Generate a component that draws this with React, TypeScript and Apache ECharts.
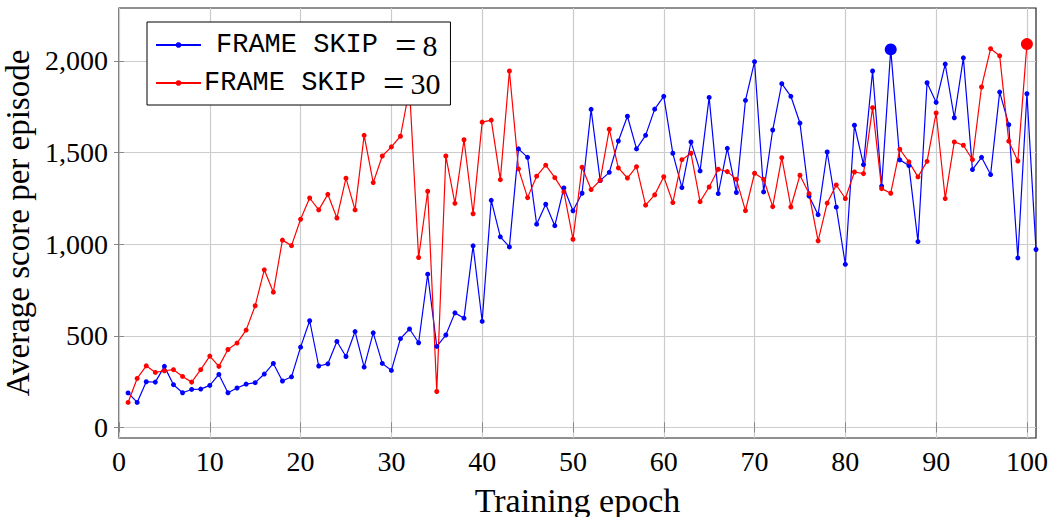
import React, { useEffect, useRef } from "react";
import * as echarts from "echarts";

const frameSkip8: number[] = [
  188, 136, 249, 247, 333, 233, 189, 207, 209, 229,
  289, 189, 215, 236, 244, 291, 349, 253, 276, 438,
  582, 335, 347, 469, 387, 523, 329, 516, 349, 311,
  484, 537, 462, 836, 442, 504, 625, 596, 991, 579,
  1239, 1040, 985, 1520, 1474, 1109, 1218, 1101, 1307, 1182,
  1278, 1736, 1347, 1392, 1563, 1698, 1520, 1594, 1737, 1807,
  1496, 1309, 1558, 1400, 1801, 1276, 1523, 1282, 1785, 1996,
  1285, 1623, 1876, 1807, 1661, 1263, 1161, 1503, 1202, 890,
  1649, 1434, 1945, 1316, 2063, 1460, 1429, 1014, 1881, 1774,
  1983, 1690, 2017, 1407, 1474, 1380, 1830, 1652, 925, 1821,
  971,
];

const frameSkip30: number[] = [
  136, 267, 336, 300, 309, 315, 278, 247, 315, 389,
  333, 425, 460, 531, 664, 860, 738, 1022, 992, 1136,
  1252, 1187, 1272, 1143, 1360, 1187, 1594, 1336, 1481, 1531,
  1589, 1850, 927, 1289, 196, 1481, 1223, 1570, 1166, 1666,
  1677, 1352, 1945, 1411, 1254, 1371, 1431, 1363, 1285, 1027,
  1420, 1298, 1349, 1627, 1416, 1361, 1423, 1213, 1269, 1368,
  1227, 1461, 1496, 1232, 1312, 1409, 1396, 1354, 1183, 1387,
  1354, 1205, 1472, 1203, 1376, 1276, 1018, 1224, 1323, 1249,
  1394, 1385, 1745, 1303, 1278, 1518, 1449, 1367, 1452, 1716,
  1249, 1558, 1540, 1461, 1858, 2067, 2028, 1562, 1454, 2092,
];

const xTicks: number[] = [0, 10, 20, 30, 40, 50, 60, 70, 80, 90, 100];
const yTicks: number[] = [0, 500, 1000, 1500, 2000];

const seriesNames = ["FRAME SKIP = 8", "FRAME SKIP = 30"];
const legendLabels: Record<string, string> = {
  "FRAME SKIP = 8": "{p|}{m|FRAME SKIP}{e|=}{s|8}",
  "FRAME SKIP = 30": "{m|FRAME SKIP}{e|=}{s|30}",
};

const SERIF = "'Liberation Serif', 'Times New Roman', serif";
const MONO = "'Liberation Mono', 'DejaVu Sans Mono', monospace";

function toPoints(values: number[]) {
  const maxV = Math.max(...values);
  return values.map((v, i) =>
    v === maxV ? { value: [i + 1, v], symbolSize: 12 } : { value: [i + 1, v] }
  );
}

export default function App() {
  const ref = useRef<HTMLDivElement>(null);
  useEffect(() => {
    if (!ref.current) return;
    const chart = echarts.init(ref.current, undefined, { renderer: "svg" });
    const tickStyle = { inside: true, length: 5, lineStyle: { color: "#888", width: 1 } };
    const gridStyle = { show: true, lineStyle: { color: "#cccccc", width: 1.2 } };
    chart.setOption({
      animation: false,
      backgroundColor: "#fff",
      grid: {
        left: 119,
        right: 15,
        top: 8,
        bottom: 79,
        outerBoundsMode: "none",
        containLabel: false,
        show: true,
        borderColor: "#222",
        borderWidth: 1.2,
        backgroundColor: "transparent",
      },
      legend: {
        z: 200,
        orient: "vertical",
        left: 147,
        top: 22,
        padding: [4, 10, 3, 8],
        itemGap: 0,
        itemWidth: 45,
        itemHeight: 7,
        borderColor: "#000",
        borderWidth: 1,
        backgroundColor: "#ffffff",
        data: seriesNames,
        formatter: (name: string) => legendLabels[name],
        textStyle: {
          padding: [0, 0, 0, -2],
          rich: {
            p: { width: 12, lineHeight: 37 },
            m: { fontFamily: MONO, fontSize: 27, color: "#000", lineHeight: 37 },
            e: { fontFamily: SERIF, fontSize: 38, color: "#000", lineHeight: 37, padding: [0, 6, 0, 17] },
            s: { fontFamily: SERIF, fontSize: 30, color: "#000", lineHeight: 37 },
          },
        },
      },
      xAxis: [
        {
          type: "value",
          min: 0,
          max: 101,
          name: "Training epoch",
          nameLocation: "middle",
          nameGap: 45,
          nameTextStyle: { fontFamily: SERIF, fontSize: 34, color: "#000" },
          axisLine: { show: false },
          axisTick: { ...tickStyle, customValues: xTicks },
          axisLabel: {
            customValues: xTicks,
            fontFamily: SERIF,
            fontSize: 28,
            color: "#000",
            margin: 9,
          },
          splitLine: gridStyle,
        },
        {
          type: "value",
          position: "top",
          min: 0,
          max: 101,
          axisLine: { show: false },
          axisTick: { ...tickStyle, customValues: xTicks },
          axisLabel: { show: false },
          splitLine: { show: false },
        },
      ],
      yAxis: [
        {
          type: "value",
          min: -58,
          max: 2289,
          name: "Average score per episode",
          nameLocation: "middle",
          nameGap: 76,
          nameRotate: 90,
          nameTextStyle: { fontFamily: SERIF, fontSize: 33, color: "#000" },
          axisLine: { show: false },
          axisTick: { ...tickStyle, customValues: yTicks },
          axisLabel: {
            customValues: yTicks,
            fontFamily: SERIF,
            fontSize: 28,
            color: "#000",
            margin: 11,
            formatter: (v: number) => v.toLocaleString("en-US"),
          },
          splitLine: gridStyle,
        },
        {
          type: "value",
          position: "right",
          min: -58,
          max: 2289,
          axisLine: { show: false },
          axisTick: { ...tickStyle, customValues: yTicks },
          axisLabel: { show: false },
          splitLine: { show: false },
        },
      ],
      series: [
        {
          name: seriesNames[0],
          type: "line",
          z: 2,
          xAxisIndex: 0,
          yAxisIndex: 0,
          data: toPoints(frameSkip8),
          symbol: "circle",
          symbolSize: 5,
          color: "#0000ff",
          lineStyle: { color: "#0000ff", width: 1.2 },
          itemStyle: { color: "#0000ff" },
        },
        {
          name: seriesNames[1],
          type: "line",
          z: 2,
          xAxisIndex: 0,
          yAxisIndex: 0,
          data: toPoints(frameSkip30),
          symbol: "circle",
          symbolSize: 5,
          color: "#ff0000",
          lineStyle: { color: "#ff0000", width: 1.2 },
          itemStyle: { color: "#ff0000" },
        },
      ],
    });
    return () => chart.dispose();
  }, []);
  return <div ref={ref} style={{ width: 1051, height: 517, position: "absolute", left: 0, top: 0 }} />;
}
